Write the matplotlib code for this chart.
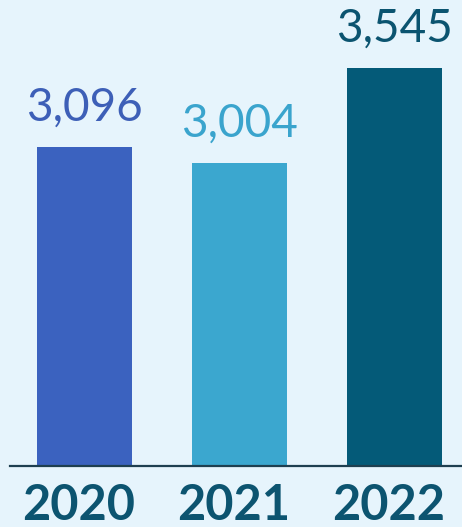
import matplotlib.pyplot as plt
from matplotlib.transforms import blended_transform_factory

years = ["2020", "2021", "2022"]
values = [3096, 3004, 3545]
bar_colors = ["#3b62bf", "#3ba7cf", "#045a78"]
label_colors = ["#3d5fb7", "#3aa4cd", "#0b5470"]

bg = "#e6f4fc"
fig = plt.figure(figsize=(4.62, 5.27), dpi=100, facecolor=bg)
ax = fig.add_axes([10 / 462, 61 / 527, 452 / 462, 466 / 527])
ax.set_facecolor(bg)

x = range(len(years))
bars = ax.bar(x, values, width=0.613, color=bar_colors)
ax.set_xlim(-0.48, 2.435)
ax.set_ylim(1291, 3928)

for b, v, c in zip(bars, values, label_colors):
    ax.annotate(f"{v:,}", (b.get_x() + b.get_width() / 2, v),
                xytext=(0, 19), textcoords="offset points",
                ha="center", va="baseline", fontsize=33,
                family="Lato", color=c)

trans = blended_transform_factory(ax.transData, fig.transFigure)
for i, y in enumerate(years):
    ax.text(i - 0.04, 7 / 527, y, transform=trans, ha="center", va="baseline",
            fontsize=35, fontweight="bold", family="Lato", color="#0c5470")

for s in ["top", "right", "left"]:
    ax.spines[s].set_visible(False)
ax.spines["bottom"].set_color("#1e3f50")
ax.spines["bottom"].set_linewidth(1.6)
ax.set_xticks([])
ax.set_yticks([])

fig.savefig("out.png", dpi=100, facecolor=bg)
